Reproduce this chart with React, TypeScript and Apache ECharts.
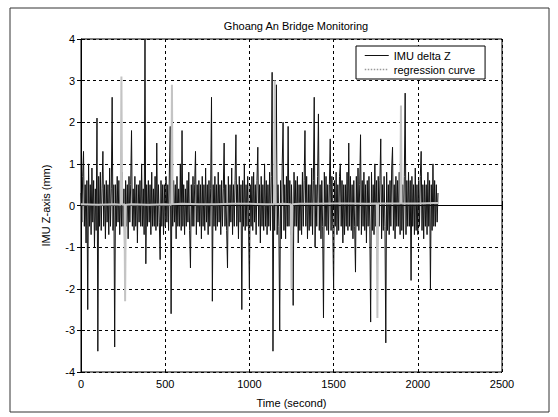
import React, { useEffect, useRef } from "react";
import * as echarts from "echarts";

// ---- data ----
const chartTitle = "Ghoang An Bridge Monitoring";
const xAxisName = "Time (second)";
const yAxisName = "IMU Z-axis (mm)";
const seriesNames = ["IMU delta Z", "regression curve"];

const xMin = 0;
const xMax = 2500;
const xInterval = 500;
const yMin = -4;
const yMax = 4;
const yInterval = 1;

// IMU delta Z, one sample every SAMPLE_STEP seconds, starting at t = 0
const SAMPLE_STEP = 5;
const imuDeltaZ: number[] = [
  0.3, -0.4, 0.7, 1.3, -0.5, 0.5, -0.9, 0.6, -2.5, 1.0, -0.5, 0.5, -0.7, 0.9, -0.4, 0.6, -1.0, 0.4, -0.6, 2.1,
  -3.5, 0.7, -0.5, 0.8, -0.6, 0.4, 1.3, -0.5, 0.5, -0.8, 0.6, -0.4, 0.5, -0.7, 0.9, -0.5, 0.4, 2.6, -0.6, 0.5,
  -3.4, 0.5, -0.5, 0.7, -0.4, 0.6, -0.7, 0.5, -0.5, 0.8, -0.5, 0.4, -1.6, 0.6, -0.5, 0.5, -0.8, 0.7, -0.4, 0.5,
  1.8, -0.5, 0.4, -0.6, 0.7, -0.5, 0.5, -0.9, 0.5, -0.4, 0.6, -0.5, 1.0, -0.5, 0.4, -0.7, 4.0, -1.4, 0.5, -0.5,
  0.6, -0.4, 0.5, -0.7, 0.8, -0.5, 0.4, -0.5, 0.7, -0.6, 1.5, -0.5, 0.5, -0.4, -1.3, 0.6, -0.5, 0.5, -0.7, 0.5,
  -0.5, 0.7, -0.4, 0.5, -0.6, 0.9, 1.9, -2.6, 0.5, -0.5, 0.6, -0.4, 0.5, -0.8, 0.7, -0.5, 0.4, -0.5, 1.0, -0.6,
  1.8, -0.5, 0.5, -0.7, 0.4, -0.5, 0.6, -0.4, 0.8, -0.6, -1.5, 0.5, -0.5, 0.7, -0.5, 0.5, 1.3, -0.7, 0.5, -0.4,
  0.6, -0.5, 0.5, -0.8, 0.7, -0.5, 0.5, -0.6, 0.9, -0.4, 0.5, -0.7, 0.6, -0.5, 0.4, 2.6, -2.3, 0.5, -0.5, 0.7,
  -0.6, 0.5, -0.5, 0.8, -0.4, 0.5, -0.7, 0.6, -0.5, 0.4, 1.5, -0.5, 0.5, -0.6, -1.5, 0.7, -0.5, 0.5, -0.4, 0.9,
  -0.7, 0.5, -0.5, 0.6, 1.7, -0.5, 0.5, -0.8, 0.7, -0.4, 0.5, -2.5, 0.6, -0.5, 1.0, -0.6, 0.5, -0.5, 0.7, -0.5,
  -2.0, 0.5, -0.5, 0.7, -0.6, 0.8, -0.4, 0.5, -0.7, 0.6, 1.4, -0.5, 0.5, -0.9, 0.7, -0.5, 0.5, -0.6, 1.0, -0.5,
  0.6, -0.7, 0.5, -0.5, 0.8, -0.6, 0.7, 3.2, -3.5, 0.5, -0.6, 0.9, 2.9, -0.7, 0.5, -0.5, -3.0, 0.6, -0.8, 1.0,
  2.0, -0.6, 0.5, -0.8, 0.7, -0.5, 1.9, -0.5, 0.6, -0.7, 0.5, -0.4, -2.4, 0.8, -0.5, 0.6, -0.5, 0.7, -0.9, 0.5,
  -0.6, 0.5, -0.7, 0.8, -0.5, 0.6, 1.8, -0.5, 0.7, -0.8, 0.5, -0.6, 0.5, -0.5, 0.9, -0.7, 0.6, 2.6, -1.0, 0.5,
  -0.5, 0.7, 2.2, -0.6, 0.5, -0.8, 0.6, -0.5, -2.7, 0.8, -0.5, 0.7, -0.6, 0.5, -0.7, 0.5, 1.6, -0.6, 0.7, -0.5,
  -2.0, 0.6, -0.5, 0.8, -0.7, 0.5, -0.6, 0.7, 1.0, -0.5, 0.6, -0.9, 0.5, -0.7, 0.5, -0.5, 0.8, -0.6, 1.5, -0.5,
  0.7, -0.6, 0.5, -0.8, 0.6, -0.5, -1.6, 0.7, -0.5, 0.9, -0.6, 0.5, 1.7, -0.7, 0.6, -0.5, 0.8, -0.6, 0.5, -0.9,
  0.6, -0.5, 0.7, -0.5, -2.8, 0.8, -0.6, 0.5, -0.7, 1.0, -0.5, 0.6, -1.4, 0.7, -0.5, 0.6, 1.6, -0.8, 0.5, -0.6,
  0.7, -0.5, -3.3, 0.8, -0.6, 0.5, -0.7, 0.6, -0.5, 0.9, 1.4, -0.6, 0.5, -0.8, 0.7, -0.5, 0.6, -0.5, 0.8, -0.7,
  2.3, -0.6, 0.5, -0.8, 0.7, 2.7, -0.7, 0.6, -0.5, 0.8, -0.5, 0.6, -1.8, 0.7, -0.5, 0.5, -0.7, 0.9, -0.6, 0.5,
  -0.7, 0.6, -0.5, 0.7, 1.3, -0.6, 0.5, -0.8, 0.6, -0.5, 0.5, -0.7, 0.8, -0.5, 0.6, -2.0, 0.5, -0.6, 1.0, -0.5,
  0.6, -0.5, 0.5, -0.4, 0.3,
];

// regression curve: [time (s), value (mm)]
const regressionCurve: [number, number][] = [
  [0, 0.03], [100, 0.02], [200, 0.03], [236, 0.02], [240, 3.1], [244, 0.02],
  [258, 0.03], [262, -2.3], [266, 0.02], [300, 0.03], [400, 0.02], [500, 0.03],
  [536, 0.02], [540, 2.9], [544, 0.03], [600, 0.04], [700, 0.03], [800, 0.03],
  [900, 0.04], [1000, 0.04], [1100, 0.03], [1146, 0.03], [1150, 3.0], [1154, 0.03],
  [1200, 0.04], [1246, 0.03], [1250, -2.0], [1254, 0.03], [1300, 0.04], [1400, 0.04],
  [1500, 0.05], [1600, 0.05], [1700, 0.04], [1756, 0.05], [1760, -2.7], [1764, 0.05],
  [1800, 0.05], [1896, 0.05], [1900, 2.4], [1904, 0.05], [2000, 0.05], [2100, 0.06], [2120, 0.06],
];

const FONT = "'Liberation Sans', Arial, sans-serif";

export default function App() {
  const ref = useRef<HTMLDivElement>(null);

  useEffect(() => {
    if (!ref.current) return;
    const chart = echarts.init(ref.current, undefined, { renderer: "svg" });
    const imuData = imuDeltaZ.map((v, i) => [i * SAMPLE_STEP, v]);

    const tickText = { color: "#000", fontFamily: FONT, fontSize: 11 };

    chart.setOption({
      animation: false,
      backgroundColor: "#fff",
      title: {
        text: chartTitle,
        left: 291,
        top: 15,
        textAlign: "center",
        textStyle: { fontFamily: FONT, fontSize: 11, fontWeight: "normal", color: "#000" },
      },
      legend: {
        orient: "vertical",
        left: 356,
        top: 46,
        padding: [4, 10, 4, 8],
        itemGap: 3,
        itemWidth: 24,
        itemHeight: 10,
        borderColor: "#000",
        borderWidth: 1,
        backgroundColor: "#fff",
        itemStyle: { opacity: 0 },
        textStyle: { fontFamily: FONT, fontSize: 11, color: "#000" },
        data: [
          { name: seriesNames[0], lineStyle: { color: "#111", width: 1 } },
          { name: seriesNames[1], lineStyle: { type: "dotted", color: "#999", width: 1.5 } },
        ],
      },
      graphic: [
        {
          type: "rect",
          shape: { x: 10, y: 8, width: 539, height: 404 },
          style: { fill: "none", stroke: "#333", lineWidth: 1 },
          silent: true,
        },
      ],
      grid: {
        left: 81,
        right: 56,
        top: 39,
        bottom: 45,
        show: true,
        borderColor: "#000",
        borderWidth: 1,
        backgroundColor: "transparent",
      },
      xAxis: [
        {
          type: "value",
          min: xMin,
          max: xMax,
          interval: xInterval,
          name: xAxisName,
          nameLocation: "middle",
          nameGap: 25,
          nameTextStyle: tickText,
          axisLine: { show: true, lineStyle: { color: "#000" } },
          axisTick: { show: true, inside: true, length: 4, lineStyle: { color: "#000" } },
          axisLabel: { ...tickText, margin: 6, formatter: (v: number) => String(v) },
          splitLine: { show: true, lineStyle: { color: "#000", type: [3, 3], width: 1 } },
        },
        {
          type: "value",
          position: "top",
          min: xMin,
          max: xMax,
          interval: xInterval,
          axisLine: { show: false },
          axisTick: { show: true, inside: true, length: 4, lineStyle: { color: "#000" } },
          axisLabel: { show: false },
          splitLine: { show: false },
        },
      ],
      yAxis: [
        {
          type: "value",
          min: yMin,
          max: yMax,
          interval: yInterval,
          name: yAxisName,
          nameLocation: "middle",
          nameGap: 30,
          nameTextStyle: tickText,
          axisLine: { show: true, lineStyle: { color: "#000" } },
          axisTick: { show: true, inside: true, length: 4, lineStyle: { color: "#000" } },
          axisLabel: { ...tickText, margin: 6, formatter: (v: number) => String(v) },
          splitLine: { show: true, lineStyle: { color: "#000", type: [3, 3], width: 1 } },
        },
        {
          type: "value",
          position: "right",
          min: yMin,
          max: yMax,
          interval: yInterval,
          axisLine: { show: false },
          axisTick: { show: true, inside: true, length: 4, lineStyle: { color: "#000" } },
          axisLabel: { show: false },
          splitLine: { show: false },
        },
      ],
      series: [
        {
          name: seriesNames[0],
          type: "line",
          data: imuData,
          showSymbol: false,
          symbol: "none",
          lineStyle: { color: "#111", width: 1 },
          itemStyle: { color: "#111" },
          z: 2,
        },
        {
          name: seriesNames[1],
          type: "line",
          data: regressionCurve,
          showSymbol: false,
          symbol: "none",
          lineStyle: { color: "#c4c4c4", width: 2 },
          itemStyle: { color: "#999" },
          z: 3,
        },
      ],
    });

    return () => chart.dispose();
  }, []);

  return (
    <div
      ref={ref}
      style={{ position: "absolute", left: 0, top: 0, width: 558, height: 417, background: "#fff" }}
    />
  );
}
